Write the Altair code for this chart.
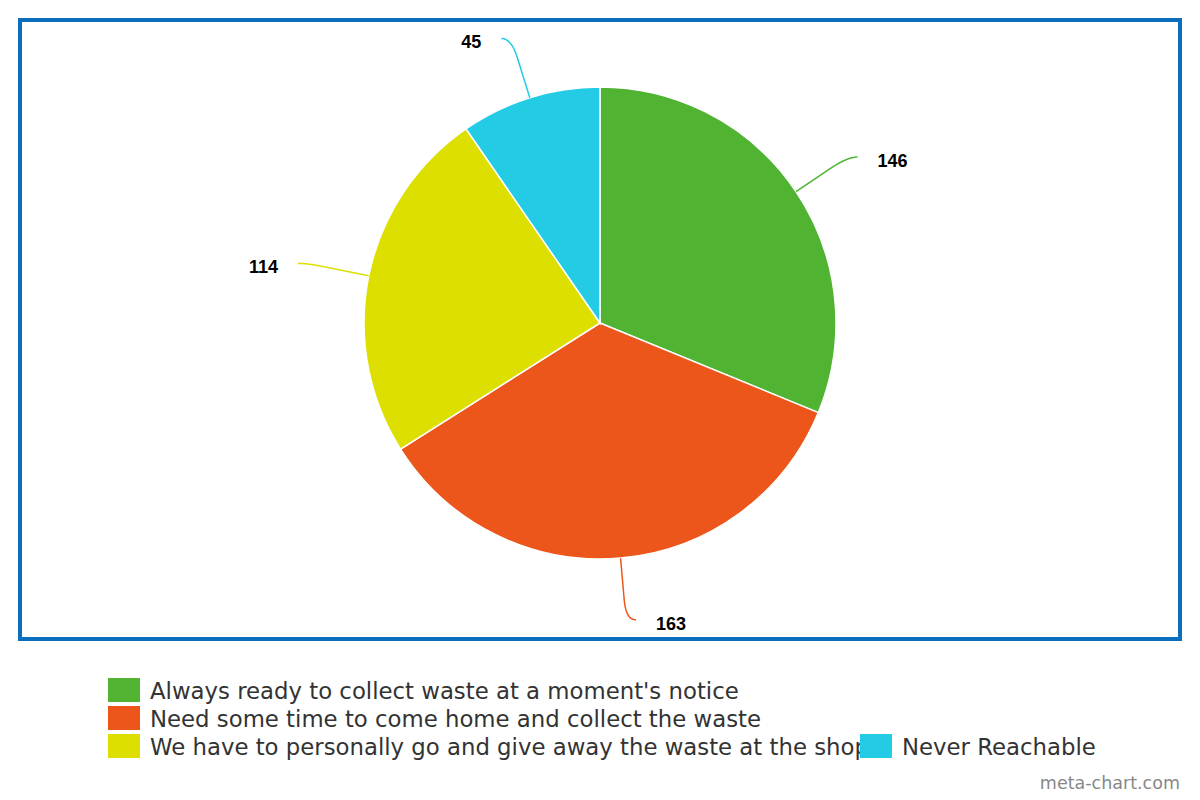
import numpy as np
import pandas as pd
import altair as alt

# ---- data ----
categories = [
    "Always ready to collect waste at a moment's notice",
    "Need some time to come home and collect the waste",
    "We have to personally go and give away the waste at the shop",
    "Never Reachable",
]
values = [146, 163, 114, 45]
colors = ["#50B432", "#ED561B", "#DDDF00", "#24CBE5"]

W, H = 1184, 784
CX, CY, R = 592, 315, 236

xs = alt.Scale(domain=[0, W], range=[0, W], nice=False, zero=False)
ys = alt.Scale(domain=[0, H], range=[0, H], nice=False, zero=False)
col_scale = alt.Scale(domain=categories, range=colors)


def X(f):
    return alt.X(f, type="quantitative", scale=xs, axis=None)


def Y(f):
    return alt.Y(f, type="quantitative", scale=ys, axis=None)


pie_df = pd.DataFrame({"label": categories, "value": values, "idx": range(len(values))})

# derived geometry for leader lines and labels
vals = np.array(values, dtype=float)
cum = np.cumsum(vals)
mid = (cum - vals / 2) / vals.sum() * 2 * np.pi
line_rows, lab_rows = [], []
for i, th in enumerate(mid):
    s, c = np.sin(th), -np.cos(th)
    side = 1 if s > 0 else -1
    S = np.array([CX + R * s, CY + R * c])
    B = np.array([CX + 278 * s, CY + 278 * c])
    Q = np.array([CX + 298 * s, CY + 298 * c])
    E = Q + np.array([side * 10, 0])
    pts = [S]
    for t in np.linspace(0, 1, 16):
        pts.append((1 - t) ** 2 * B + 2 * (1 - t) * t * Q + t ** 2 * E)
    for k, p in enumerate(pts):
        line_rows.append({"label": categories[i], "k": k, "x": p[0], "y": p[1]})
    lab_rows.append({"label": categories[i], "v": str(values[i]),
                     "x": E[0] + side * 20, "y": E[1] + 5, "side": side})
line_df = pd.DataFrame(line_rows)
lab_df = pd.DataFrame(lab_rows)

# legend layout derived from item order
leg_rows = []
for i, cat in enumerate(categories):
    row = min(i, 2)
    colno = 0 if i < 3 else 1
    x0 = 100 + colno * 752
    y0 = 670 + row * 28
    leg_rows.append({"label": cat, "x": x0, "x2": x0 + 32, "y": y0, "y2": y0 + 24,
                     "tx": x0 + 42, "ty": y0 + 14})
leg_df = pd.DataFrame(leg_rows)

frame_df = pd.DataFrame({"x": [12], "x2": [1172], "y": [12], "y2": [631]})
wm_df = pd.DataFrame({"t": ["meta-chart.com"], "x": [1172], "y": [776]})

frame = alt.Chart(frame_df).mark_rect(filled=False, stroke="#0A6EBD", strokeWidth=4).encode(
    x=X("x"), x2="x2", y=Y("y"), y2="y2")

pie = alt.Chart(pie_df).mark_arc(outerRadius=R, stroke="white", strokeWidth=1.5).encode(
    theta=alt.Theta("value:Q", stack=True),
    order=alt.Order("idx:Q"),
    color=alt.Color("label:N", scale=col_scale, legend=None),
    x=alt.value(CX), y=alt.value(CY))

leaders = alt.Chart(line_df).mark_line(strokeWidth=1.5, interpolate="linear").encode(
    x=X("x"), y=Y("y"), detail="label:N", order="k:Q",
    color=alt.Color("label:N", scale=col_scale, legend=None))

lab_r = alt.Chart(lab_df).transform_filter("datum.side > 0").mark_text(
    align="left", baseline="middle", font="Liberation Sans", fontWeight="bold",
    fontSize=18, color="#000000").encode(x=X("x"), y=Y("y"), text="v:N")
lab_l = alt.Chart(lab_df).transform_filter("datum.side < 0").mark_text(
    align="right", baseline="middle", font="Liberation Sans", fontWeight="bold",
    fontSize=18, color="#000000").encode(x=X("x"), y=Y("y"), text="v:N")

leg_sq = alt.Chart(leg_df).mark_rect().encode(
    x=X("x"), x2="x2", y=Y("y"), y2="y2",
    color=alt.Color("label:N", scale=col_scale, legend=None))
leg_tx = alt.Chart(leg_df).mark_text(
    align="left", baseline="middle", font="DejaVu Sans", fontSize=22.8, color="#333333").encode(
    x=X("tx"), y=Y("ty"), text="label:N")

wm = alt.Chart(wm_df).mark_text(
    align="right", baseline="middle", font="DejaVu Sans", fontSize=17.5, color="#888888").encode(
    x=X("x"), y=Y("y"), text="t:N")

chart = alt.layer(frame, pie, leaders, lab_r, lab_l, leg_tx, leg_sq, wm,
                  view=alt.ViewBackground(stroke="transparent")).properties(
    width=W, height=H, padding=0, autosize=alt.AutoSizeParams(type="none")
).configure_view(stroke="transparent", strokeWidth=0).configure(background="white")

chart.save("out.html", embed_options={"renderer": "svg", "actions": False})
